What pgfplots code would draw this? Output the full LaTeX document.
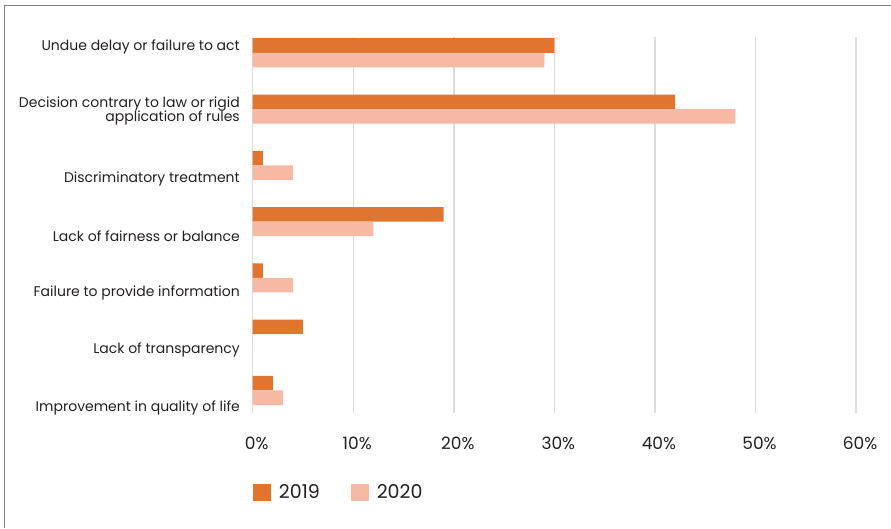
\documentclass[border=0pt]{standalone}
\usepackage{pgfplots}
\pgfplotsset{compat=1.18}
\usepackage{pgfplotstable}
\usepackage{fontspec}
\setmainfont{Poppins}
\definecolor{c19}{HTML}{E07530}
\definecolor{c20}{HTML}{F5B9A4}
\definecolor{gridc}{HTML}{DCDCDC}
\definecolor{txt}{HTML}{231F20}
\definecolor{frame}{HTML}{7F7F7F}
\pgfplotstableread{
y v19 v20
0 30 29
1 42 48
2 1 4
3 19 12
4 1 4
5 5 0
6 2 3
}\data
\begin{document}
\begin{tikzpicture}[x=1pt,y=1pt]
\path[use as bounding box] (0,0) rectangle (891,-528);
\draw[color=frame, line width=1.4pt] (4.6,-528) -- (4.6,-5.4) -- (891,-5.4);
\begin{axis}[
  at={(252.7pt,-413pt)}, anchor=south west,
  scale only axis, width=603.3pt, height=376pt,
  xbar, bar width=0.258,
  xmin=0, xmax=60, xtick={0,10,20,30,40,50,60},
  xticklabels={0\%,10\%,20\%,30\%,40\%,50\%,60\%},
  xticklabel style={anchor=north, inner sep=0pt, yshift=-23.5pt, xshift=4pt, font=\fontsize{17}{20}\selectfont, text=txt},
  y dir=reverse, ymin=-0.28, ymax=6.4,
  ytick={-0.1,1.03,2.24,3.26,4.27,5.28,6.31},
  yticklabels={Undue delay or failure to act,{Decision contrary to law or rigid\\[-2.5pt]application of rules},Discriminatory treatment,Lack of fairness or balance,Failure to provide information,Lack of transparency,Improvement in quality of life},
  yticklabel style={anchor=east, inner sep=0pt, xshift=-12.7pt, align=right, font=\fontsize{14}{16.5}\selectfont, text=txt},
  axis line style={draw=none},
  major tick length=0pt,
  xmajorgrids, grid style={color=gridc, line width=1.5pt},
  legend style={draw=none, at={(0,-0.185)}, anchor=north west, legend columns=2,
    font=\fontsize{19}{23}\selectfont, text=txt, inner sep=0pt,
    /tikz/every odd column/.append style={column sep=6pt},
    /tikz/every even column/.append style={column sep=29pt}},
  legend cell align=left,
]
\addplot[fill=c19, draw=none, bar shift=-0.129,
  legend image code/.code={\fill[c19] (0pt,-8.7pt) rectangle (18pt,8.7pt);}] table[x=v19, y=y] {\data};
\addlegendentry{2019}
\addplot[fill=c20, draw=none, bar shift=0.129,
  legend image code/.code={\fill[c20] (0pt,-8.7pt) rectangle (18pt,8.7pt);}] table[x=v20, y=y] {\data};
\addlegendentry{2020}
\end{axis}
\end{tikzpicture}
\end{document}
